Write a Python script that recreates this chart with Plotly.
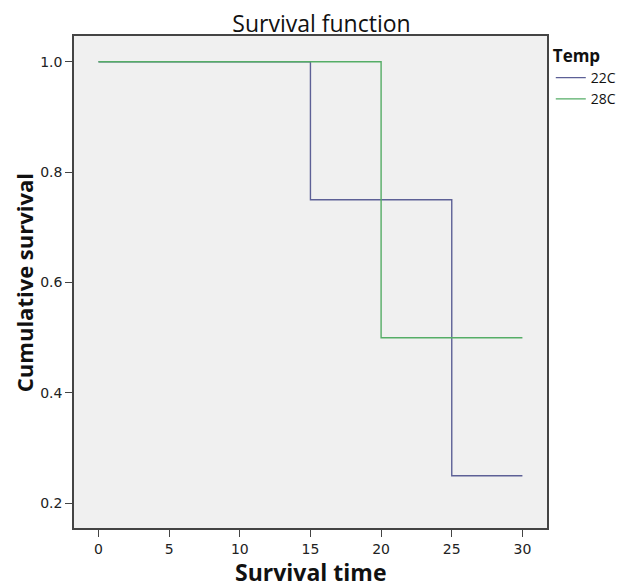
import plotly.graph_objects as go

times_22 = [0, 15, 15, 25, 25, 30]
surv_22 = [1.0, 1.0, 0.75, 0.75, 0.25, 0.25]
times_28 = [0, 20, 20, 30]
surv_28 = [1.0, 1.0, 0.5, 0.5]
series_names = ["22C", "28C"]
x_ticks = [0, 5, 10, 15, 20, 25, 30]
y_ticks = [0.2, 0.4, 0.6, 0.8, 1.0]

fig = go.Figure()
fig.add_trace(go.Scatter(x=times_22, y=surv_22, mode="lines", name=series_names[0],
                         line=dict(color="#5d6096", width=1.4, shape="hv")))
fig.add_trace(go.Scatter(x=times_28, y=surv_28, mode="lines", name=series_names[1],
                         line=dict(color="#55ad66", width=1.4, shape="hv")))

axis_font = dict(family="DejaVu Sans", size=14, color="#222")
title_font = dict(family="Open Sans", size=23, color="#111")
fig.update_layout(
    width=626, height=588,
    paper_bgcolor="white", plot_bgcolor="#f0f0f0",
    margin=dict(l=66, r=71, t=28, b=68),
    title=dict(text="Survival function", x=0.5008, xanchor="center", y=0.973, yanchor="middle",
               font=dict(family="Open Sans", size=23, color="#111")),
    xaxis=dict(range=[-1.732, 31.74], tickvals=x_ticks, ticktext=[str(v) for v in x_ticks],
               showgrid=False, zeroline=False, showline=True, linecolor="#444", linewidth=1.5,
               mirror=True, ticks="outside", ticklen=7, tickcolor="#444", tickfont=axis_font,
               automargin=False),
    yaxis=dict(range=[0.1552, 1.0466], tickvals=y_ticks, ticktext=["%.1f" % v for v in y_ticks],
               showgrid=False, zeroline=False, showline=True, linecolor="#444", linewidth=1.5,
               mirror=True, ticks="outside", ticklen=7, tickcolor="#444", tickfont=axis_font,
               automargin=False),
    legend=dict(x=1.008, y=0.992, xanchor="left", yanchor="top",
                title=dict(text="<b>Temp</b>", font=dict(family="Open Sans", size=17, color="#111")),
                font=dict(family="Open Sans", size=14, color="#111"),
                bgcolor="rgba(0,0,0,0)", itemwidth=30, tracegroupgap=0),
    annotations=[
        dict(text="<b>Survival time</b>", xref="paper", yref="paper", x=0.5, y=-0.0904,
             xanchor="center", yanchor="middle", showarrow=False, font=title_font),
        dict(text="<b>Cumulative survival</b>", xref="paper", yref="paper", x=-0.1043, y=0.499,
             xanchor="center", yanchor="middle", textangle=-90, showarrow=False,
             font=dict(family="Open Sans", size=22, color="#111")),
    ],
)
fig.write_html("out.html")
